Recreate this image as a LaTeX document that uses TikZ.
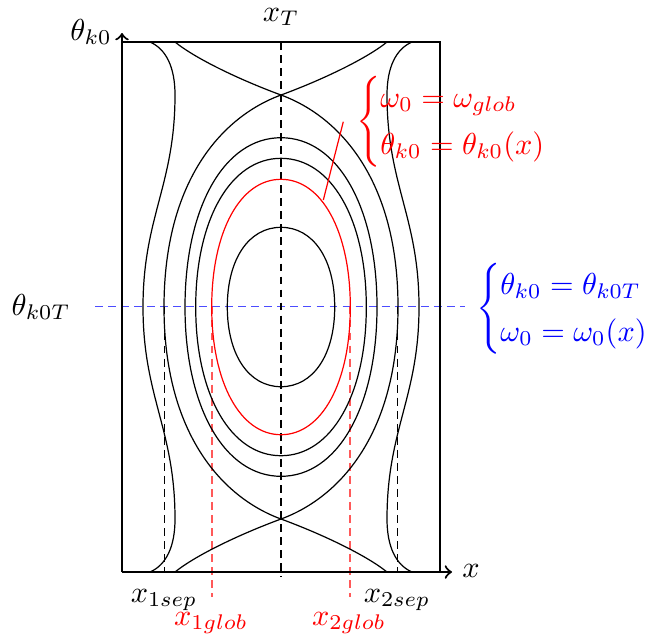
\documentclass[tikz,border=0pt]{standalone}
\usepackage{amsmath}
\newcommand\phaseorbit[3]{% a, b, k
  ({-#1},0) .. controls ({-#1},{-#3*#2}) and ({-#3*#1},{-#2}) .. (0,{-#2})
  .. controls ({#3*#1},{-#2}) and ({#1},{-#3*#2}) .. ({#1},0)
  .. controls ({#1},{#3*#2}) and ({#3*#1},{#2}) .. (0,{#2})
  .. controls ({-#3*#1},{#2}) and ({-#1},{#3*#2}) .. ({-#1},0) -- cycle}
\begin{document}
\begin{tikzpicture}[x=0.33pt,y=-0.33pt,
  frame/.style={line width=0.7pt},
  orbit/.style={line width=0.4pt, black},
  globorbit/.style={line width=0.4pt, red},
  guide/.style={line width=0.5pt, black, dash pattern=on 2.6pt off 1.7pt},
  redguide/.style={line width=0.6pt, red!65, dash pattern=on 2.6pt off 1.7pt},
  blueguide/.style={line width=0.6pt, blue!70, dash pattern=on 2.6pt off 1.7pt},
  lbl/.style={inner sep=0pt, outer sep=0pt}]
\useasboundingbox (0,0) rectangle (646,635);

% named reference points
\coordinate (O) at (122,572);
\coordinate (ytip) at (122,33);
\coordinate (xtip) at (452,572);
\coordinate (TL) at (122,42);
\coordinate (TR) at (440,42);
\coordinate (BR) at (440,572);
\coordinate (C) at (281,307);

% guide lines
\coordinate (bl1) at (95,306.5);  \coordinate (bl2) at (465,306.5);
\draw[blueguide] (bl1) -- (bl2);
\coordinate (ct) at (281,42);  \coordinate (cb) at (281,577);
\draw[guide] (ct) -- (cb);
\coordinate (s1t) at (164.3,306.5); \coordinate (s1b) at (164.3,572);
\coordinate (s2t) at (397.7,306.5); \coordinate (s2b) at (397.7,572);
\draw[guide] (s1t) -- (s1b);
\draw[guide] (s2t) -- (s2b);
\coordinate (g1t) at (211.7,306.5); \coordinate (g1b) at (211.7,597);
\coordinate (g2t) at (350.3,306.5); \coordinate (g2b) at (350.3,597);
\draw[redguide] (g1t) -- (g1b);
\draw[redguide] (g2t) -- (g2b);

% phase curves
\begin{scope}[shift={(C)}]
  \draw[orbit] \phaseorbit{53.7}{79.7}{0.6};
  \draw[globorbit] \phaseorbit{69.3}{127.7}{0.59};
  \draw[orbit] \phaseorbit{85.3}{148.7}{0.59};
  \draw[orbit] \phaseorbit{96}{169.3}{0.59};
  % separatrix lobe
  \draw[orbit] (0,-212) .. controls (-60,-190) and (-117,-125) .. (-117,0)
    .. controls (-117,125) and (-60,190) .. (0,212)
    .. controls (60,190) and (117,125) .. (117,0)
    .. controls (117,-125) and (60,-190) .. (0,-212);
  % separatrix branches to the edges
  \foreach \sx in {1,-1}{
    \foreach \sy in {1,-1}{
      \begin{scope}[xscale=\sx, yscale=\sy]
        \draw[orbit] (0,-212) .. controls (-40,-226.7) and (-85,-248) .. (-106,-265);
      \end{scope}
    }
    % open trajectories
    \begin{scope}[xscale=\sx]
      \draw[orbit] (-131,-265) .. controls (-115,-258) and (-106,-240) .. (-106,-212)
        .. controls (-106,-122) and (-138,-90) .. (-138,0)
        .. controls (-138,90) and (-106,122) .. (-106,212)
        .. controls (-106,240) and (-115,258) .. (-131,265);
    \end{scope}
  }
\end{scope}

% frame and axes
\draw[frame] (TL) -- (TR) -- (BR);
\draw[frame,->] (O) -- (xtip);
\draw[frame,->] (O) -- (ytip);

% red pointer line
\coordinate (p1) at (343.3,121.7);
\coordinate (p2) at (323.3,200);
\draw[globorbit] (p1) -- (p2);

% labels
\node[lbl] (thk0) at (91,32) {$\theta_{k0}$};
\node[lbl] (xT) at (281,17) {$x_T$};
\node[lbl] (thk0T) at (41,307) {$\theta_{k0T}$};
\node[lbl] (xax) at (471,571) {$x$};
\node[lbl] (x1sep) at (164,600) {$x_{1sep}$};
\node[lbl, red] (x1glob) at (211,623) {$x_{1glob}$};
\node[lbl] (x2sep) at (397,600) {$x_{2sep}$};
\node[lbl, red] (x2glob) at (349,623) {$x_{2glob}$};
\node[lbl, red, anchor=west] (globeq) at (356,122)
  {$\begin{cases}\omega_0=\omega_{glob}\\[1pt]\theta_{k0}=\theta_{k0}(x)\end{cases}$};
\node[lbl, blue, anchor=west] (teq) at (476,309)
  {$\begin{cases}\theta_{k0}=\theta_{k0T}\\[1pt]\omega_0=\omega_0(x)\end{cases}$};
\end{tikzpicture}
\end{document}
